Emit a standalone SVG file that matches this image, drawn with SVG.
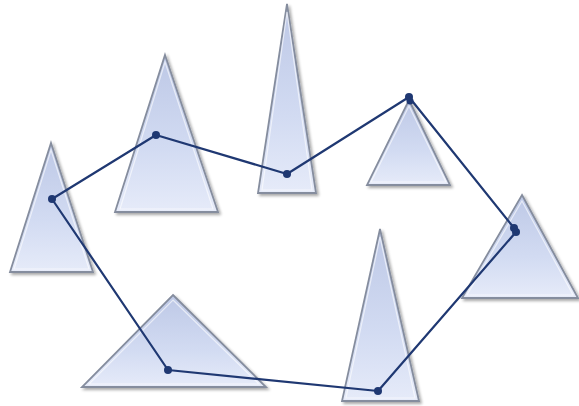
<svg xmlns="http://www.w3.org/2000/svg" width="579" height="406" viewBox="0 0 579 406">
<defs>
<linearGradient id="g" x1="0" y1="0" x2="0" y2="1">
<stop offset="0" stop-color="#bdc8e6"/>
<stop offset="0.6" stop-color="#d2dbf2"/>
<stop offset="1" stop-color="#e6ebf9"/>
</linearGradient>
<filter id="sh" x="-20%" y="-20%" width="140%" height="140%">
<feGaussianBlur in="SourceAlpha" stdDeviation="1.5"/>
<feOffset dx="1.5" dy="2" result="b"/>
<feComponentTransfer><feFuncA type="linear" slope="0.35"/></feComponentTransfer>
<feMerge><feMergeNode/><feMergeNode in="SourceGraphic"/></feMerge>
</filter>
</defs>
<style>
.tri{fill:url(#g);stroke:#858d9e;stroke-width:1.8;stroke-linejoin:miter;filter:url(#sh)}
.in{fill:none;stroke:#ffffff;stroke-opacity:0.6;stroke-width:1.2}
.edge{fill:none;stroke:#1f3872;stroke-width:2.2;stroke-linejoin:round}
.dot{fill:#1f3872}
</style>
<rect width="579" height="406" fill="#ffffff"/>
<g id="t1"><polygon class="tri" points="165,55 218,212 115,212"/><polygon class="in" points="165,62 213,209 120,209"/></g>
<g id="t2"><polygon class="tri" points="51,143 93,272 10,272"/><polygon class="in" points="51,150 89,269 14,269"/></g>
<g id="t3"><polygon class="tri" points="287,4 316,193 258,193"/><polygon class="in" points="287,12 312,190 262,190"/></g>
<g id="t4"><polygon class="tri" points="409,100 450,185 367,185"/><polygon class="in" points="409,106 446,182 371,182"/></g>
<g id="t5"><polygon class="tri" points="522,195 578,298 462,298"/><polygon class="in" points="522,201 573,295 467,295"/></g>
<g id="t6"><polygon class="tri" points="173,295 266,387 82,387"/><polygon class="in" points="173,300 259,384 89,384"/></g>
<g id="t7"><polygon class="tri" points="380,229 419,401 342,401"/><polygon class="in" points="380,237 415,398 346,398"/></g>
<g id="connectors">
<polyline class="edge" points="52,199 156,135 287,174 409,97 514,228 516,232 378,391 168,370 52,199"/>
<circle class="dot" cx="52" cy="199" r="4"/>
<circle class="dot" cx="156" cy="135" r="4"/>
<circle class="dot" cx="287" cy="174" r="4"/>
<circle class="dot" cx="409" cy="97" r="4"/>
<circle class="dot" cx="410" cy="101" r="3.5"/>
<circle class="dot" cx="514" cy="228" r="4"/>
<circle class="dot" cx="516" cy="232" r="4"/>
<circle class="dot" cx="378" cy="391" r="4"/>
<circle class="dot" cx="168" cy="370" r="4"/>
</g>
</svg>
